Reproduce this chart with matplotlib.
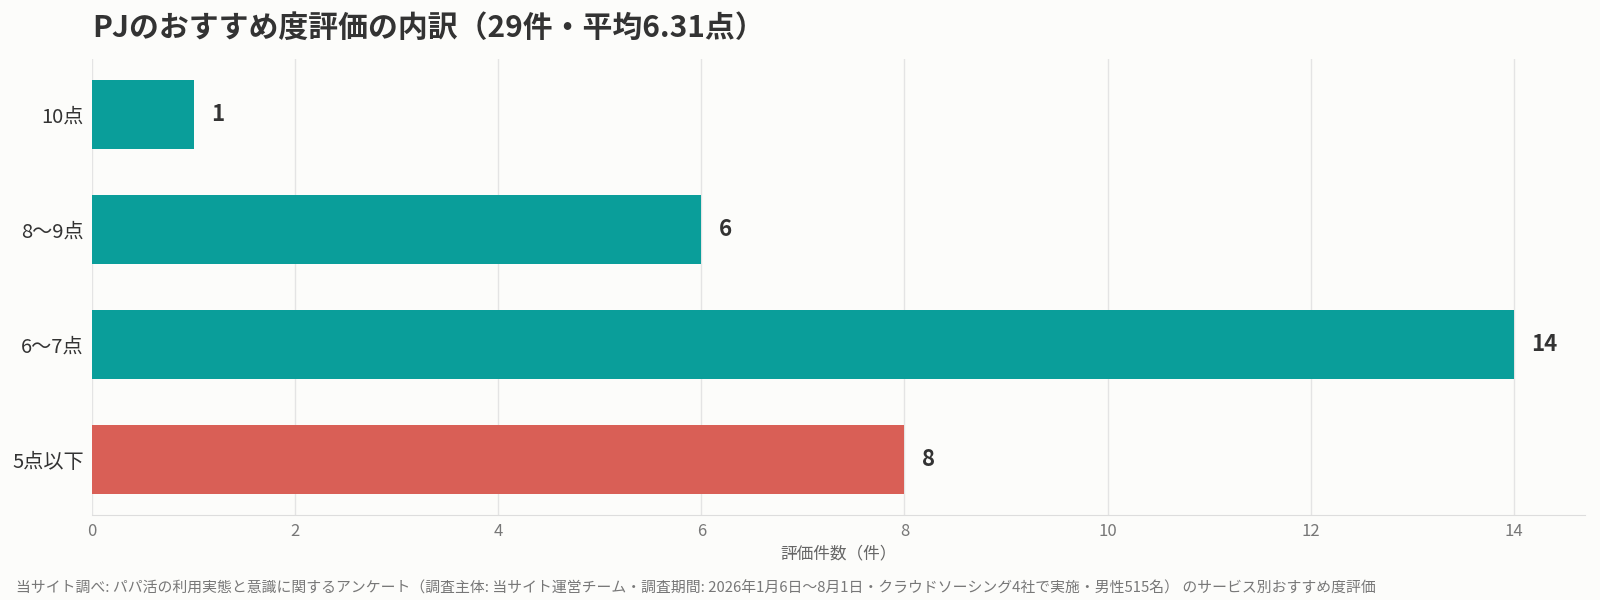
import matplotlib
matplotlib.use("Agg")
import matplotlib.pyplot as plt

plt.rcParams["font.family"] = ["Noto Sans CJK JP", "DejaVu Sans"]

categories = ["10点", "8〜9点", "6〜7点", "5点以下"]
counts = [1, 6, 14, 8]
colors = ["#0a9e9a", "#0a9e9a", "#0a9e9a", "#d95f56"]

title = "PJのおすすめ度評価の内訳（29件・平均6.31点）"
xlabel = "評価件数（件）"
footer = ("当サイト調べ: パパ活の利用実態と意識に関するアンケート（調査主体: 当サイト運営チーム・"
          "調査期間: 2026年1月6日〜8月1日・クラウドソーシング4社で実施・男性515名） のサービス別おすすめ度評価")

BG = "#fcfcfa"

fig = plt.figure(figsize=(16, 6), dpi=100, facecolor=BG)
ax = fig.add_axes([0.0575, 0.1417, 0.933, 0.76], facecolor=BG)

ypos = list(range(len(categories)))[::-1]
ax.barh(ypos, counts, height=0.6, color=colors, zorder=2)
for y, v in zip(ypos, counts):
    ax.text(v + 0.17, y, str(v), va="center", ha="left",
            fontsize=16, fontweight="bold", color="#333333")

ax.set_yticks(ypos)
ax.set_yticklabels(categories, fontsize=14.5, color="#333333")
ax.set_xticks(range(0, 15, 2))
ax.tick_params(axis="x", labelsize=12, colors="#777777", length=0, pad=6)
ax.tick_params(axis="y", length=0, pad=6)
ax.set_xlim(0, 14.7)
ax.set_ylim(-0.48, 3.48)
ax.grid(axis="x", color="#e4e4e4", lw=1, zorder=0)
for s in ["top", "right", "left"]:
    ax.spines[s].set_visible(False)
ax.spines["bottom"].set_color("#dddddd")
ax.set_xlabel(xlabel, fontsize=12, color="#666666", labelpad=4)

fig.text(0.0575, 0.954, title, fontsize=21.5, fontweight="bold",
         color="#333333", ha="left", va="center")
fig.text(0.0102, 0.02, footer, fontsize=10.7, color="#777777", ha="left", va="center")

fig.savefig("out.png", dpi=100, facecolor=BG)
